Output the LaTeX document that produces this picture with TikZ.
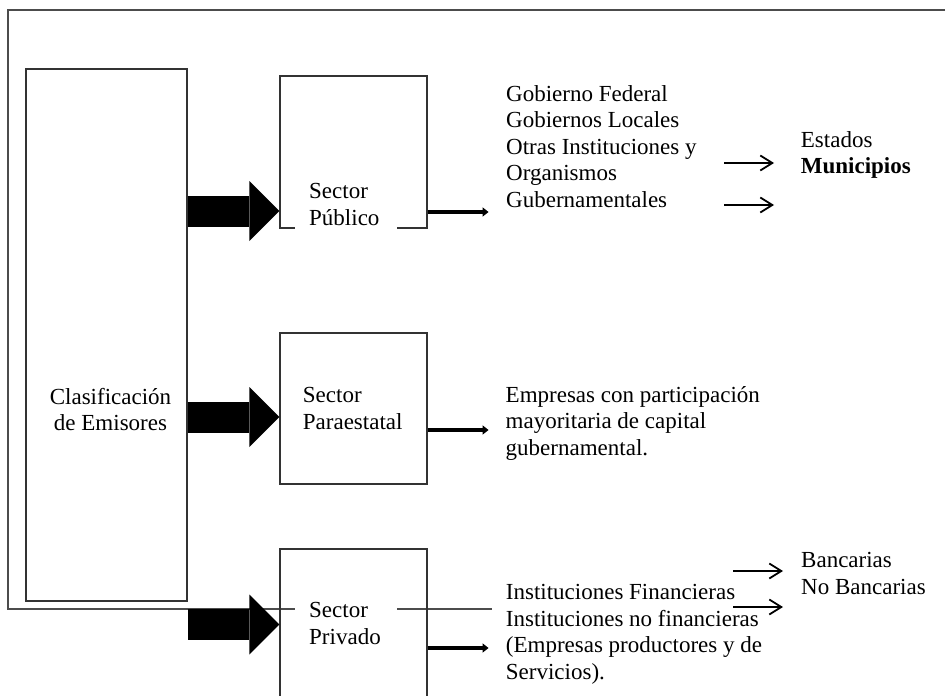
\documentclass[tikz,border=0pt]{standalone}
\usepackage{fontspec}
\setmainfont{Liberation Serif}
\usetikzlibrary{arrows.meta}
\begin{document}
\begin{tikzpicture}[x=1pt,y=-1pt,
  every node/.style={font=\fontsize{23}{26.5}\selectfont},
  box/.style={draw=black!80,line width=1.1pt},
  txt/.style={anchor=north west,align=left,inner sep=0pt},
  sectxt/.style={anchor=north west,align=left,fill=white,text width=74pt,inner xsep=14pt,inner ysep=6pt},
  blockarrow/.style={-{Triangle[length=30pt,width=60pt,line width=0pt]},line width=31pt},
  outarrow/.style={-{Triangle[length=6pt,width=9pt]},line width=4pt},
  subarrow/.style={-{Straight Barb[length=12pt,width=15pt]},line width=1.8pt}]
\useasboundingbox (0,0) rectangle (948,696);
% outer frame
\draw[black!70,line width=1.1pt] (945,10) -- (8,10) -- (8,609) -- (492,609);
\node[box,minimum width=161pt,minimum height=532pt] (clasif) at (106.5,335) {};
\node[align=center,inner sep=0pt,anchor=north] (clasiftxt) at (110.5,388) {Clasificación\\de Emisores};
\node[box,minimum width=147pt,minimum height=152pt] (pub) at (353.5,152) {};
\node[box,minimum width=147pt,minimum height=151pt] (para) at (353.5,408.5) {};
\node[box,minimum width=147pt,minimum height=151pt] (priv) at (353.5,624.5) {};
\node[sectxt] (publbl) at (295,177.5) {Sector\\Público};
\node[txt] (paralbl) at (302.7,387.5) {Sector\\Paraestatal};
\node[sectxt] (privlbl) at (295,596.5) {Sector\\Privado};
\node[txt] (pubtxt) at (506,85.3) {Gobierno Federal\\Gobiernos Locales\\Otras Instituciones y\\Organismos\\Gubernamentales};
\node[txt] (edotxt) at (800.7,131.3) {Estados\\\textbf{Municipios}};
\node[txt] (paratxt) at (505.5,386.3) {Empresas con participación\\mayoritaria de capital\\gubernamental.};
\node[txt] (privtxt) at (505.7,584.3) {Instituciones Financieras\\Instituciones no financieras\\(Empresas productores y de\\Servicios).};
\node[txt] (bantxt) at (801,552.3) {Bancarias\\No Bancarias};
% big arrows into each sector
\coordinate (pubin) at ([yshift=-59pt]pub.west);
\coordinate (parain) at ([yshift=-8.5pt]para.west);
\draw[blockarrow] (clasif.east |- pubin) -- (pubin);
\draw[blockarrow] (clasif.east |- parain) -- (parain);
\draw[blockarrow] (clasif.east |- priv.west) -- (priv.west);
% out of each sector
\draw[outarrow] ([yshift=-60pt]pub.east) -- +(61,0);
\draw[outarrow] ([yshift=-21.5pt]para.east) -- +(61,0);
\draw[outarrow] ([yshift=-23.5pt]priv.east) -- +(61,0);
% sub-classes
\coordinate (est1) at (724,163);
\coordinate (est2) at (724,205);
\coordinate (ban1) at (733,571);
\coordinate (ban2) at (733,607);
\draw[subarrow] (est1) -- +(50,0);
\draw[subarrow] (est2) -- +(50,0);
\draw[subarrow] (ban1) -- +(50,0);
\draw[subarrow] (ban2) -- +(50,0);
\end{tikzpicture}
\end{document}
